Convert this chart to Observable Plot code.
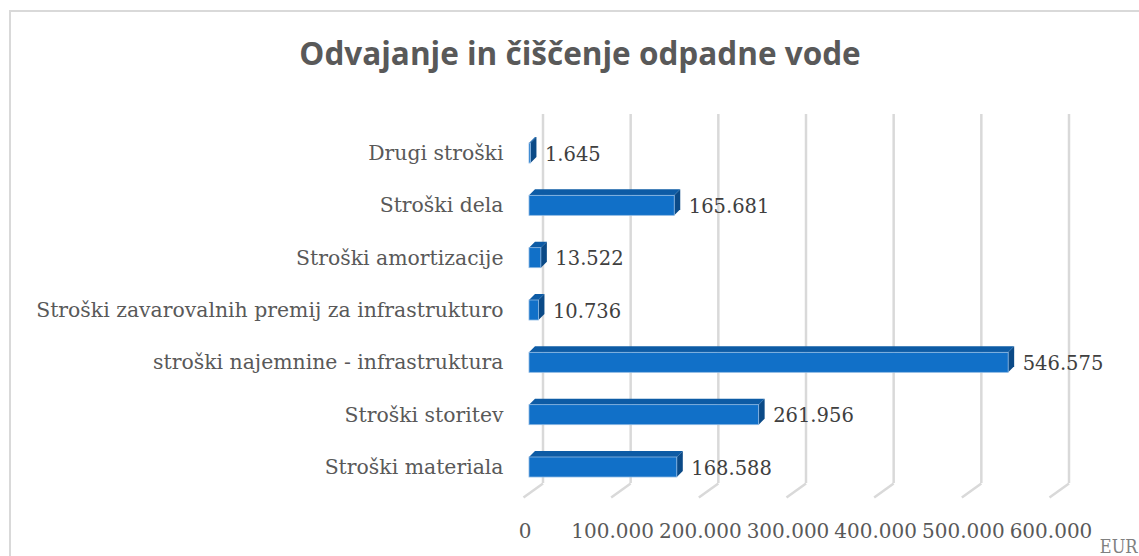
<!DOCTYPE html>
<html><head><meta charset="utf-8">
<script src="https://cdn.jsdelivr.net/npm/d3@7"></script>
<script src="https://cdn.jsdelivr.net/npm/@observablehq/plot@0.6"></script>
<style>
body{margin:0;background:#fff;}
#wrap{position:relative;width:1139px;height:556px;overflow:hidden;background:#fff;}
#frame{position:absolute;left:9px;top:10px;width:1300px;height:700px;border-left:2px solid #d9d9d9;border-top:2px solid #d9d9d9;box-sizing:border-box;pointer-events:none;}
#title{position:relative;height:100px;box-sizing:border-box;padding-top:33px;padding-left:21px;text-align:center;font-family:"Open Sans",sans-serif;font-weight:700;font-size:31.5px;line-height:40px;color:#595959;}
#chart{position:relative;}
</style></head><body>
<div id="wrap"><div id="frame"></div><div id="title">Odvajanje in čiščenje odpadne vode</div><div id="chart"></div></div>
<script>
const categories = ["Drugi stroški","Stroški dela","Stroški amortizacije","Stroški zavarovalnih premij za infrastrukturo","stroški najemnine - infrastruktura","Stroški storitev","Stroški materiala"];
const values = [1645,165681,13522,10736,546575,261956,168588];
const xTicks = [0,100000,200000,300000,400000,500000,600000];
const yTicks = [0,1,2,3,4,5,6];
const unitLabel = "EUR";

const fmt = v => d3.format(",")(v).replace(/,/g, ".");
const W = 1139, H = 456, ML = 529, MR = 84;
const uPerPx = 600000 / (W - ML - MR);        // x data units per pixel
const yPx = (367 - 53) / 6;                    // pixels per row
const half = 10 / yPx;                         // half bar height (rows)
const dX = 6 * uPerPx, dY = 6 / yPx;           // bar depth
const topY = (14 - 53) / yPx, backFloorY = (383 - 53) / yPx, frontFloorY = (397 - 53) / yPx;

const rows = categories.map((c, i) => ({name: c, i, v: values[i]}));
const topFaces = rows.flatMap(r => [
  {name: r.name, y: r.i - half, x1: 0, x2: r.v},
  {name: r.name, y: r.i - half - dY, x1: dX, x2: r.v + dX}
]);
const sideFaces = rows.flatMap(r => [
  {name: r.name, x: r.v, y1: r.i - half, y2: r.i + half},
  {name: r.name, x: r.v + dX, y1: r.i - half - dY, y2: r.i + half - dY}
]);

const chart = Plot.plot({
  width: W, height: H,
  marginLeft: ML, marginRight: MR, marginTop: 14, marginBottom: 41,
  style: {fontFamily: "DejaVu Serif", fontSize: "20px", color: "#595959", background: "transparent", overflow: "visible"},
  x: {domain: [0, 600000], label: null},
  y: {domain: [0, 6], range: [53, 367], label: null},
  marks: [
    Plot.ruleX(xTicks, {x: d => d, dx: 13.5, y1: topY, y2: backFloorY, stroke: "#d9d9d9", strokeWidth: 2.5}),
    Plot.link(xTicks, {x1: d => d + 13.5 * uPerPx, y1: backFloorY, x2: d => d - 6 * uPerPx, y2: frontFloorY, stroke: "#d9d9d9", strokeWidth: 2.5}),
    Plot.axisX({ticks: xTicks, tickFormat: fmt, tickSize: 0, tickPadding: 8, dx: -4.5, label: null, fontSize: 20}),
    Plot.axisY({ticks: yTicks, tickFormat: i => categories[i], tickSize: 0, tickPadding: 26, label: null, fontSize: 20.4}),
    Plot.areaY(sideFaces, {x: "x", y1: "y1", y2: "y2", z: "name", fill: "#0B4A87"}),
    Plot.areaX(topFaces, {y: "y", x1: "x1", x2: "x2", z: "name", fill: "#0D5BA5"}),
    Plot.rect(rows, {x1: 0, x2: "v", y1: r => r.i - half, y2: r => r.i + half, fill: "#1170C8", stroke: "#8db8e3", strokeWidth: 0.8}),
    Plot.text(rows, {x: "v", y: "i", text: r => fmt(r.v), dx: 14, dy: 1, textAnchor: "start", fill: "#404040", fontSize: 19.5}),
    Plot.text([unitLabel], {frameAnchor: "bottom-right", text: d => d, dx: 82, dy: 37, textAnchor: "end", fill: "#808080", fontSize: 18, fontFamily: "'DejaVu Serif Condensed', 'DejaVu Serif'"})
  ]
});
document.getElementById("chart").appendChild(chart);
</script>
</body></html>
